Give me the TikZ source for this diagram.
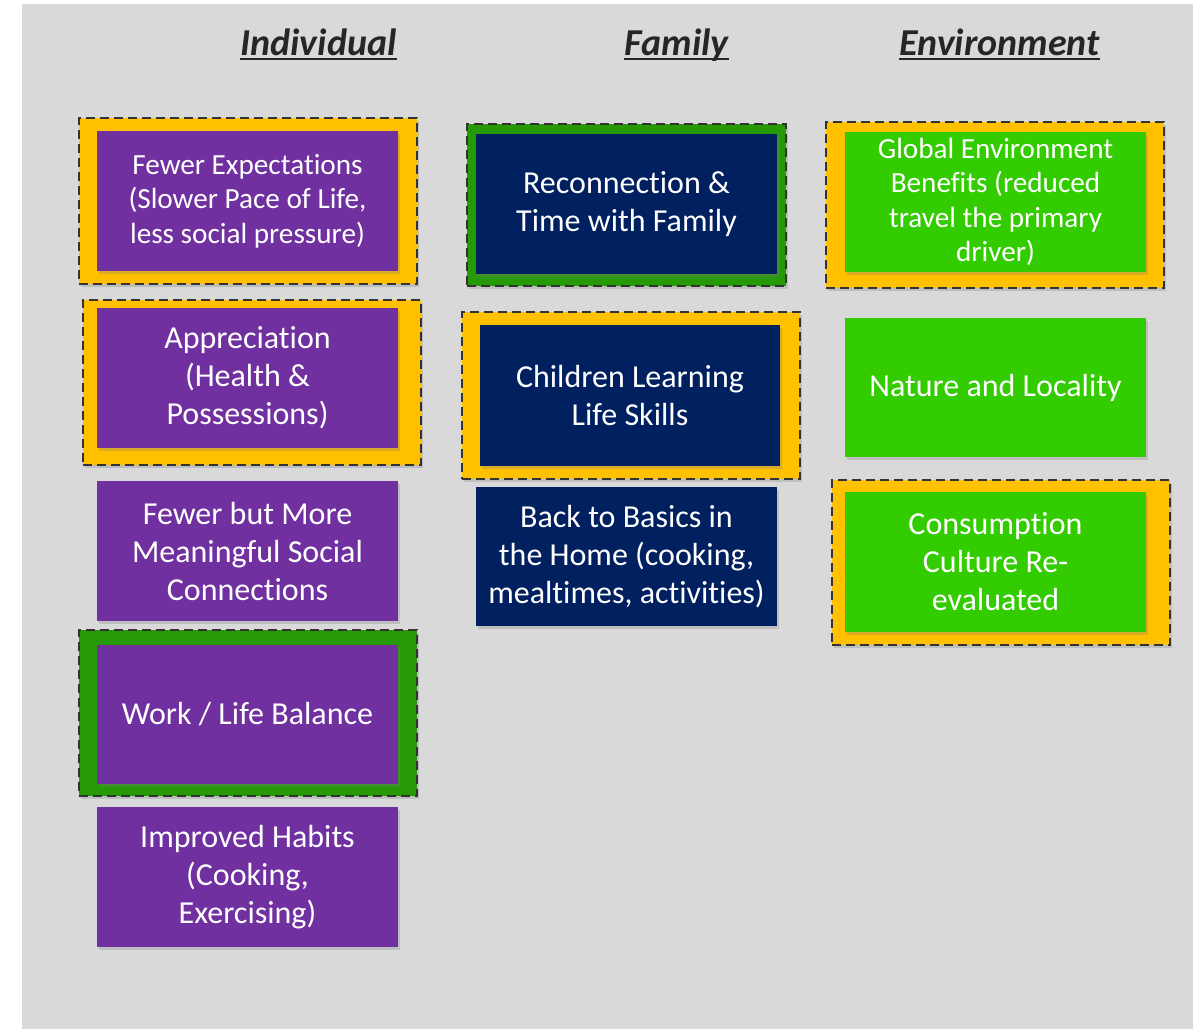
\documentclass[tikz,border=0pt]{standalone}
\usepackage{fontspec}
\setmainfont{Carlito}[Ligatures=NoCommon]
\usetikzlibrary{shadows}
\definecolor{panelgray}{HTML}{D9D9D9}
\definecolor{cardpurple}{HTML}{7030A0}
\definecolor{cardnavy}{HTML}{002060}
\definecolor{cardlime}{HTML}{33CC00}
\definecolor{framegold}{HTML}{FFC000}
\definecolor{framegreen}{HTML}{269906}
\definecolor{dashgray}{HTML}{333333}
\definecolor{headgray}{HTML}{262626}
\tikzset{
  card/.style={rectangle, minimum width=301, minimum height=140, inner sep=0pt,
    text=white, align=center, font=\fontsize{32}{38}\selectfont,
    drop shadow={shadow xshift=1.5pt, shadow yshift=-2.5pt, opacity=.3}},
  small/.style={font=\fontsize{29.2}{34.5}\selectfont},
  indiv/.style={card, fill=cardpurple},
  fam/.style={card, fill=cardnavy},
  env/.style={card, fill=cardlime},
  frame/.style={rectangle, inner sep=0pt, draw=dashgray, line width=2pt,
    dash pattern=on 9pt off 5pt,
    drop shadow={shadow xshift=1.5pt, shadow yshift=-2.5pt, opacity=.3}},
  goldframe/.style={frame, fill=framegold},
  greenframe/.style={frame, fill=framegreen},
  head/.style={inner sep=0pt, anchor=base, text=headgray,
    font=\fontsize{38}{44}\selectfont\bfseries\itshape},
  headrule/.style={headgray, line width=2.2pt}
}

\begin{document}
\begin{tikzpicture}[x=1pt, y=-1pt]
  % one unit = one pixel, y runs downwards
  \useasboundingbox (0,0) rectangle (1193,1029);
  \fill[white] (0,0) rectangle (1193,1029);
  \fill[panelgray] (22,4) rectangle (1193,1029);

  % column heads
  \node[head] (hInd) at (318.5,55) {Individual};
  \node[head] (hFam) at (676.5,55) {Family};
  \node[head] (hEnv) at (999.5,55) {Environment};
  \foreach \h in {hInd,hFam,hEnv}
    \draw[headrule] ([yshift=-4pt]\h.base west) -- ([yshift=-4pt]\h.base east);

  % frames first, cards go on top
  \node[goldframe, minimum width=338, minimum height=166] (fExp) at (248,201) {};
  \node[goldframe, minimum width=338, minimum height=165] (fAppr) at (252,382.5) {};
  \node[greenframe, minimum width=338, minimum height=166] (fBalance) at (248,713) {};
  \node[greenframe, minimum width=319, minimum height=162] (fReconnect) at (626.5,205) {};
  \node[goldframe, minimum width=338, minimum height=167] (fChildren) at (631,395.5) {};
  \node[goldframe, minimum width=338, minimum height=166] (fGlobal) at (995,205) {};
  \node[goldframe, minimum width=338, minimum height=165] (fCulture) at (1001,562.5) {};

  % individual
  \node[indiv, small] (cExp) at (247.5,201) {Fewer Expectations\\(Slower Pace of Life,\\less social pressure)};
  \node[indiv] (cAppr) at (247.5,378) {Appreciation\\(Health \&\\Possessions)};
  \node[indiv] (cSocial) at (247.5,551) {Fewer but More\\Meaningful Social\\Connections};
  \node[indiv, minimum height=139] (cBalance) at (247.5,714.5) {Work / Life Balance};
  \node[indiv] (cHabits) at (247.5,877) {Improved Habits\\(Cooking,\\Exercising)};

  % family
  \node[fam] (cReconnect) at (626.5,204) {Reconnection \&\\Time with Family};
  \node[fam, minimum width=300, minimum height=141] (cChildren) at (630,395.5) {Children Learning\\Life Skills};
  \node[fam, minimum height=139] (cBasics) at (626.5,556.5) {Back to Basics in\\the Home (cooking,\\mealtimes, activities)};

  % environment
  \node[env, small] (cGlobal) at (995.5,202) {Global Environment\\Benefits (reduced\\travel the primary\\driver)};
  \node[env, minimum height=139] (cNature) at (995.5,387.5) {Nature and Locality};
  \node[env] (cCulture) at (995.5,562) {Consumption\\Culture Re-\\evaluated};
\end{tikzpicture}
\end{document}
